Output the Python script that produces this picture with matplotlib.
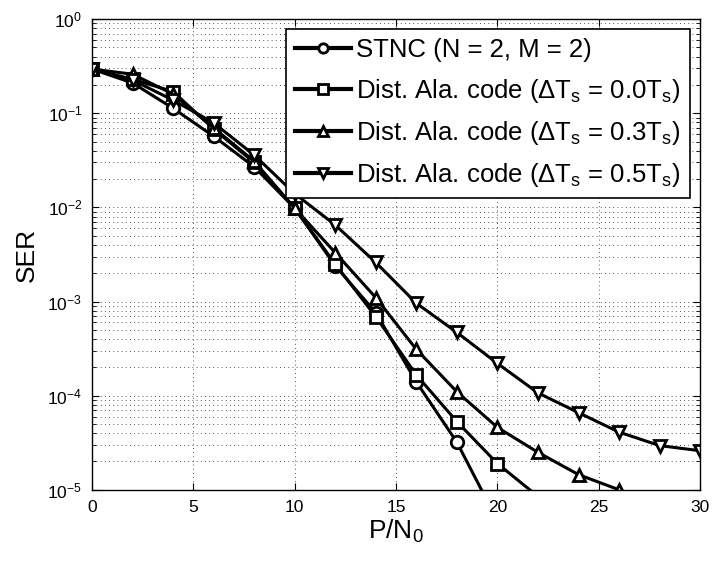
import matplotlib
matplotlib.use("Agg")
import matplotlib.pyplot as plt
from matplotlib.ticker import LogLocator, NullFormatter, FixedLocator

plt.rcParams['font.family'] = ['Liberation Sans', 'DejaVu Sans']
plt.rcParams['mathtext.fontset'] = 'custom'
plt.rcParams['mathtext.rm'] = 'Liberation Sans'
plt.rcParams['mathtext.it'] = 'Liberation Sans'
plt.rcParams['mathtext.default'] = 'regular'

snr = [0, 2, 4, 6, 8, 10, 12, 14, 16, 18, 20, 22, 24, 26, 28, 30]

stnc = [0.295, 0.21, 0.113, 0.057, 0.027, 0.0098, 0.0024, 0.00076, 0.00014, 3.2e-5, 4.7e-6]
ala00 = [0.295, 0.23, 0.17, 0.068, 0.030, 0.0098, 0.0025, 0.00069, 0.000166, 5.3e-5, 1.9e-5, 8.5e-6]
ala03 = [0.295, 0.26, 0.16, 0.070, 0.031, 0.0098, 0.0033, 0.0011, 0.00031, 0.00011, 4.6e-5, 2.5e-5, 1.45e-5, 1.0e-5, 6.5e-6]
ala05 = [0.295, 0.225, 0.138, 0.079, 0.036, 0.014, 0.0065, 0.0026, 0.00096, 0.00047, 0.00022, 0.000107, 6.6e-5, 4.1e-5, 2.95e-5, 2.6e-5]

labels = [
    'STNC (N = 2, M = 2)',
    r'Dist. Ala. code ($\Delta$T$_{s}$ = 0.0T$_{s}$)',
    r'Dist. Ala. code ($\Delta$T$_{s}$ = 0.3T$_{s}$)',
    r'Dist. Ala. code ($\Delta$T$_{s}$ = 0.5T$_{s}$)',
]
series = [stnc, ala00, ala03, ala05]
markers = ['o', 's', '^', 'v']
ymin, ymax = 1e-5, 1

fig = plt.figure(figsize=(7.13, 5.63), dpi=100)
ax = fig.add_axes([0.129, 0.130, 0.853, 0.836])

for y, m, lab in zip(series, markers, labels):
    visible = [i for i, v in enumerate(y) if v >= ymin * 0.999]
    ax.plot(snr[:len(y)], y, color='black', lw=2.2, marker=m, markersize=9,
            markevery=visible,
            markerfacecolor='white', markeredgecolor='black', markeredgewidth=2.0,
            label=lab)

ax.set_yscale('log')
ax.set_xlim(0, 30)
ax.set_ylim(ymin, ymax)
ax.set_xticks([0, 5, 10, 15, 20, 25, 30])
ax.yaxis.set_major_locator(FixedLocator([1e-5, 1e-4, 1e-3, 1e-2, 1e-1, 1]))
ax.yaxis.set_minor_locator(LogLocator(base=10, subs=range(2, 10), numticks=20))
ax.yaxis.set_minor_formatter(NullFormatter())
ax.set_yticklabels([r'10$^{-5}$', r'10$^{-4}$', r'10$^{-3}$', r'10$^{-2}$', r'10$^{-1}$', r'10$^{0}$'])

ax.tick_params(which='both', direction='in', top=True, right=True, labelsize=12.5, pad=7)
ax.tick_params(which='major', length=5, width=0.8)
ax.tick_params(which='minor', length=3, width=0.6)

ax.grid(True, which='major', axis='both', linestyle=(0, (1, 4)), color='#222222', lw=0.6)
ax.grid(True, which='minor', axis='y', linestyle=(0, (1, 4)), color='#222222', lw=0.6)

for s in ax.spines.values():
    s.set_linewidth(1.0)

ax.set_xlabel(r'P/N$_{0}$', fontsize=19, labelpad=2)
ax.set_ylabel('SER', fontsize=19, labelpad=6)

leg = ax.legend(loc='upper right', fontsize=18.5, frameon=True, fancybox=False,
                edgecolor='black', framealpha=1, borderaxespad=0.4,
                handlelength=2.2, handletextpad=0.2, labelspacing=0.55,
                borderpad=0.35, markerscale=0.75)
leg.get_frame().set_linewidth(1.2)
for h in leg.get_lines():
    h.set_linewidth(3.0)

fig.savefig('out.png', dpi=100)
